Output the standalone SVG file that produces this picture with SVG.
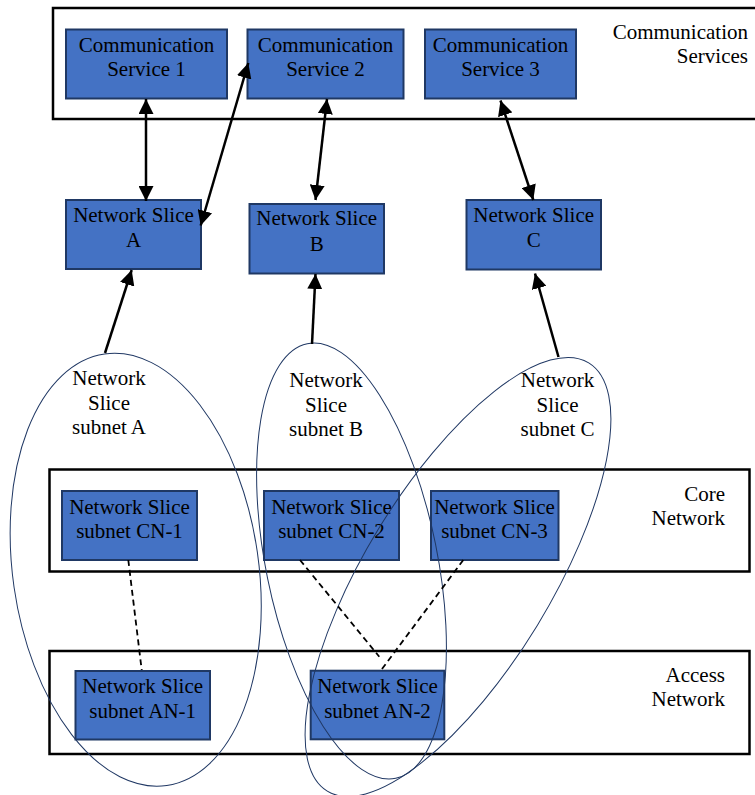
<svg xmlns="http://www.w3.org/2000/svg" width="755" height="795" viewBox="0 0 755 795">
  <style>
    text { font-family: 'Liberation Serif', 'DejaVu Serif', serif; font-size: 21px; fill: #000; }
    .mid { text-anchor: middle; }
    .end { text-anchor: end; }
    .layer { fill: none; stroke: #000; stroke-width: 2.5; }
    .box { fill: #4472c4; stroke: #1f3864; stroke-width: 2; }
    .subnet { fill: none; stroke: #203864; stroke-width: 1; }
    .link { fill: none; stroke: #000; stroke-width: 2.5; }
    .dash { fill: none; stroke: #000; stroke-width: 1.8; stroke-dasharray: 6 4; }
  </style>
  <defs>
    <marker id="head" viewBox="0 0 15 15" refX="15" refY="7.5" markerWidth="15" markerHeight="15" markerUnits="userSpaceOnUse" orient="auto-start-reverse">
      <path d="M0,0 L15,7.5 L0,15 z" fill="#000"/>
    </marker>
  </defs>

  <rect width="755" height="795" fill="#fff"/>

  <g font-family="Liberation Serif, serif">
  <!-- layer frames -->
  <g id="layer-communication-services">
    <rect class="layer" x="53" y="8" width="710" height="111"/>
    <text class="end" x="748" y="39">Communication</text>
    <text class="end" x="748" y="63">Services</text>
  </g>
  <g id="layer-core-network">
    <rect class="layer" x="49.5" y="469.5" width="700" height="102"/>
    <text class="end" x="725" y="501">Core</text>
    <text class="end" x="725" y="525">Network</text>
  </g>
  <g id="layer-access-network">
    <rect class="layer" x="49.5" y="651" width="700" height="103"/>
    <text class="end" x="725" y="682">Access</text>
    <text class="end" x="725" y="706">Network</text>
  </g>

  <!-- communication services -->
  <g id="cs1">
    <rect class="box" x="66" y="29.5" width="161" height="69"/>
    <text class="mid" x="146.5" y="52">Communication</text>
    <text class="mid" x="146.5" y="76">Service 1</text>
  </g>
  <g id="cs2">
    <rect class="box" x="247.5" y="29.5" width="156" height="69"/>
    <text class="mid" x="325.5" y="52">Communication</text>
    <text class="mid" x="325.5" y="76">Service 2</text>
  </g>
  <g id="cs3">
    <rect class="box" x="425" y="29.5" width="151" height="69"/>
    <text class="mid" x="500.5" y="52">Communication</text>
    <text class="mid" x="500.5" y="76">Service 3</text>
  </g>

  <!-- network slices -->
  <g id="slice-a">
    <rect class="box" x="66" y="200" width="135" height="69"/>
    <text class="mid" x="133.5" y="222">Network Slice</text>
    <text class="mid" x="133.5" y="247">A</text>
  </g>
  <g id="slice-b">
    <rect class="box" x="249.5" y="204" width="134.5" height="69.5"/>
    <text class="mid" x="316.7" y="225">Network Slice</text>
    <text class="mid" x="316.7" y="250.5">B</text>
  </g>
  <g id="slice-c">
    <rect class="box" x="466.5" y="200" width="134.5" height="69.5"/>
    <text class="mid" x="533.7" y="222">Network Slice</text>
    <text class="mid" x="533.7" y="247">C</text>
  </g>

  <!-- core network subnets -->
  <g id="cn1">
    <rect class="box" x="62" y="491" width="135" height="69"/>
    <text class="mid" x="129.5" y="513.5">Network Slice</text>
    <text class="mid" x="129.5" y="537.5">subnet CN-1</text>
  </g>
  <g id="cn2">
    <rect class="box" x="264" y="491" width="135" height="69"/>
    <text class="mid" x="331.5" y="513.5">Network Slice</text>
    <text class="mid" x="331.5" y="537.5">subnet CN-2</text>
  </g>
  <g id="cn3">
    <rect class="box" x="431" y="491" width="127.5" height="69"/>
    <text class="mid" x="494.5" y="513.5">Network Slice</text>
    <text class="mid" x="494.5" y="537.5">subnet CN-3</text>
  </g>

  <!-- access network subnets -->
  <g id="an1">
    <rect class="box" x="75.5" y="671" width="134.5" height="68.5"/>
    <text class="mid" x="142.7" y="693">Network Slice</text>
    <text class="mid" x="142.7" y="717.5">subnet AN-1</text>
  </g>
  <g id="an2">
    <rect class="box" x="310.7" y="670.7" width="133.6" height="68.6"/>
    <text class="mid" x="377.5" y="693">Network Slice</text>
    <text class="mid" x="377.5" y="717.5">subnet AN-2</text>
  </g>

  <!-- slice subnets (groupings) -->
  <g id="subnet-a">
    <ellipse class="subnet" cx="135.7" cy="569.7" rx="122.9" ry="218" transform="rotate(-8.2 135.7 569.7)"/>
    <text class="mid" x="109" y="385">Network</text>
    <text class="mid" x="109" y="410">Slice</text>
    <text class="mid" x="109" y="434">subnet A</text>
  </g>
  <g id="subnet-b">
    <ellipse class="subnet" cx="351.5" cy="561" rx="85.7" ry="221.8" transform="rotate(-11.5 351.5 561)"/>
    <text class="mid" x="326" y="387">Network</text>
    <text class="mid" x="326" y="411.5">Slice</text>
    <text class="mid" x="326" y="436">subnet B</text>
  </g>
  <g id="subnet-c">
    <ellipse class="subnet" cx="458" cy="577" rx="92.9" ry="250.9" transform="rotate(31.4 458 577)"/>
    <text class="mid" x="557.5" y="387">Network</text>
    <text class="mid" x="557.5" y="411.5">Slice</text>
    <text class="mid" x="557.5" y="436">subnet C</text>
  </g>
  </g>

  <!-- connectors -->
  <g id="connectors">
    <line class="link" x1="146" y1="99" x2="146" y2="201" marker-start="url(#head)" marker-end="url(#head)"/>
    <line class="link" x1="248.3" y1="63" x2="200.7" y2="225.5" marker-start="url(#head)" marker-end="url(#head)"/>
    <line class="link" x1="327" y1="99" x2="315.5" y2="200" marker-start="url(#head)" marker-end="url(#head)"/>
    <line class="link" x1="500.5" y1="100.5" x2="533.3" y2="200" marker-start="url(#head)" marker-end="url(#head)"/>

    <line class="link" x1="105" y1="353" x2="131.7" y2="270" marker-end="url(#head)"/>
    <line class="link" x1="312" y1="344" x2="315.5" y2="274" marker-end="url(#head)"/>
    <line class="link" x1="558.5" y1="357" x2="535" y2="273.5" marker-end="url(#head)"/>

    <line class="dash" x1="128.3" y1="560" x2="141.7" y2="670"/>
    <line class="dash" x1="300" y1="560" x2="379.3" y2="656.7"/>
    <line class="dash" x1="463.3" y1="560" x2="380.7" y2="670.7"/>
  </g>
</svg>
